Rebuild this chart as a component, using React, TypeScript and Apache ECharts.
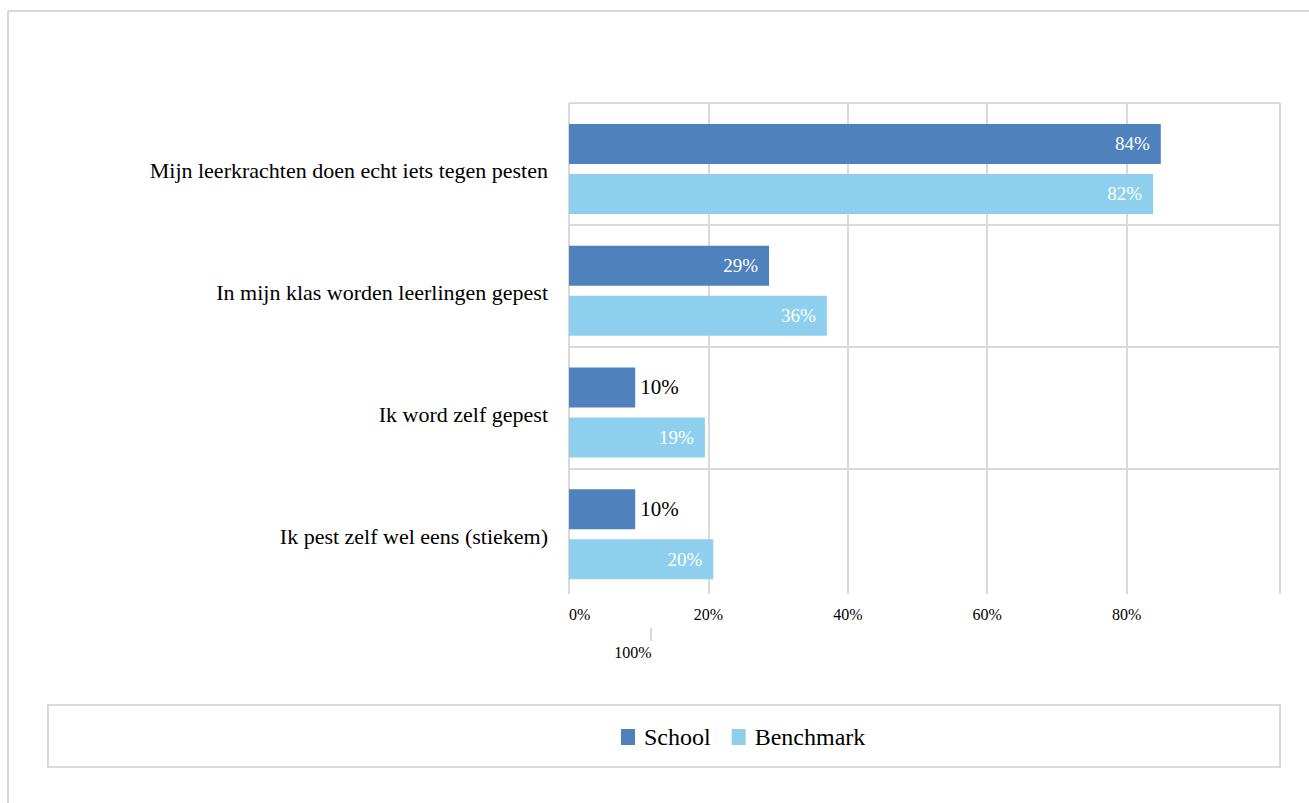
import React, { useEffect, useRef } from "react";
import * as echarts from "echarts";

const categories = [
  "Mijn leerkrachten doen echt iets tegen pesten",
  "In mijn klas worden leerlingen gepest",
  "Ik word zelf gepest",
  "Ik pest zelf wel eens (stiekem)",
];
const seriesNames = ["School", "Benchmark"];
const schoolValues = [84.9, 28.7, 9.5, 9.5];
const benchmarkValues = [83.8, 37.0, 19.5, 20.7];
const schoolLabels = ["84%", "29%", "10%", "10%"];
const benchmarkLabels = ["82%", "36%", "19%", "20%"];
const tickValues = [0, 20, 40, 60, 80];
const strayTickLabel = "100%";

const FONT = "Liberation Serif";
const GRID = "#d9d9d9";
const COLORS = ["#4F81BD", "#8DCFEC"];

function makeData(values: number[], labels: string[]) {
  return values.map((v, i) => {
    const inside = v >= 15;
    return {
      value: v,
      label: inside
        ? {
            show: true,
            position: "insideRight",
            distance: 11,
            color: "#ffffff",
            fontSize: 19,
            fontFamily: FONT,
            formatter: () => labels[i],
          }
        : {
            show: true,
            position: "right",
            distance: 5,
            color: "#000000",
            fontSize: 21,
            fontFamily: FONT,
            formatter: () => labels[i],
          },
    };
  });
}

export default function App() {
  const ref = useRef<HTMLDivElement>(null);
  useEffect(() => {
    document.body.style.margin = "0";
    if (!ref.current) return;
    const chart = echarts.init(ref.current, undefined, { renderer: "svg" });
    chart.setOption({
      animation: false,
      backgroundColor: "#ffffff",
      color: COLORS,
      textStyle: { fontFamily: FONT },
      grid: { left: 569, top: 103, width: 711, height: 487, containLabel: false },
      xAxis: {
        type: "value",
        min: 0,
        max: 102,
        axisLine: { show: false },
        axisTick: {
          show: true,
          length: 4,
          customValues: [...tickValues, 102],
          lineStyle: { color: GRID, width: 2 },
        },
        splitLine: { show: true, lineStyle: { color: GRID, width: 2 } },
        axisLabel: {
          customValues: tickValues,
          formatter: (v: number) => `${v}%`,
          fontSize: 16,
          fontFamily: FONT,
          color: "#000",
          margin: 16,
          alignMinLabel: "left",
        },
      },
      yAxis: {
        type: "category",
        inverse: true,
        data: categories,
        axisLine: { show: false },
        axisTick: { show: false },
        splitLine: {
          show: true,
          showMaxLine: false,
          lineStyle: { color: GRID, width: 2 },
        },
        axisLabel: {
          color: "#000",
          margin: 21,
          formatter: (v: string) => `{c|${v}}`,
          rich: {
            c: {
              fontSize: 22,
              fontFamily: FONT,
              color: "#000",
              padding: [14, 0, 0, 0],
            },
          },
        },
      },
      legend: {
        left: 616,
        top: 720,
        icon: "rect",
        itemWidth: 14,
        itemHeight: 16,
        itemGap: 21,
        data: seriesNames,
        textStyle: { fontSize: 24, fontFamily: FONT, color: "#000", padding: [0, 0, 0, 4] },
      },
      series: [
        {
          name: "spacer",
          type: "bar",
          barWidth: 8,
          barGap: "25%",
          silent: true,
          itemStyle: { color: "rgba(0,0,0,0)" },
          data: categories.map(() => 0),
        },
        {
          name: seriesNames[0],
          type: "bar",
          barWidth: 40,
          barGap: "25%",
          data: makeData(schoolValues, schoolLabels),
        },
        {
          name: seriesNames[1],
          type: "bar",
          barWidth: 40,
          barGap: "25%",
          data: makeData(benchmarkValues, benchmarkLabels),
        },
      ],
      graphic: [
        {
          type: "line",
          shape: { x1: 8, y1: 11, x2: 1309, y2: 11 },
          style: { stroke: GRID, lineWidth: 2 },
        },
        {
          type: "line",
          shape: { x1: 8, y1: 11, x2: 8, y2: 803 },
          style: { stroke: GRID, lineWidth: 2 },
        },
        {
          type: "rect",
          shape: { x: 48, y: 705, width: 1232, height: 62 },
          style: { fill: "none", stroke: GRID, lineWidth: 2 },
        },
        {
          type: "line",
          shape: { x1: 651, y1: 628, x2: 651, y2: 641 },
          style: { stroke: GRID, lineWidth: 2 },
        },
        {
          type: "text",
          x: 633,
          y: 652,
          style: {
            text: strayTickLabel,
            fontSize: 16,
            fontFamily: FONT,
            fill: "#000",
            align: "center",
            verticalAlign: "middle",
          },
        },
      ],
    });
    return () => chart.dispose();
  }, []);
  return <div ref={ref} style={{ width: 1309, height: 803 }} />;
}
